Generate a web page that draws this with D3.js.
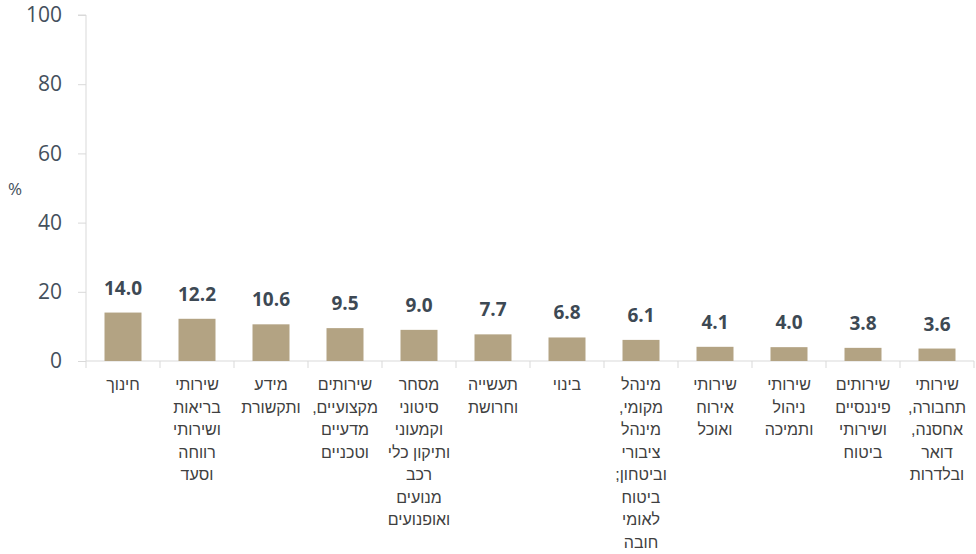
<!DOCTYPE html>
<html><head><meta charset="utf-8">
<script src="https://cdn.jsdelivr.net/npm/d3@7"></script>
<style>body{margin:0;background:#fff}svg{display:block}</style>
</head><body><svg id="c" width="976" height="554"></svg>
<script>
const categories = [
  ["חינוך"],
  ["שירותי","בריאות","ושירותי","רווחה","וסעד"],
  ["מידע","ותקשורת"],
  ["שירותים","מקצועיים,","מדעיים","וטכניים"],
  ["מסחר","סיטוני","וקמעוני","ותיקון כלי","רכב","מנועים","ואופנועים"],
  ["תעשייה","וחרושת"],
  ["בינוי"],
  ["מינהל","מקומי,","מינהל","ציבורי","וביטחון;","ביטוח","לאומי","חובה"],
  ["שירותי","אירוח","ואוכל"],
  ["שירותי","ניהול","ותמיכה"],
  ["שירותים","פיננסיים","ושירותי","ביטוח"],
  ["שירותי","תחבורה,","אחסנה,","דואר","ובלדרות"]
];
const values = [14.0,12.2,10.6,9.5,9.0,7.7,6.8,6.1,4.1,4.0,3.8,3.6];
const yTicks = [0,20,40,60,80,100];
const yLabel = "%";

const svg = d3.select("#c");
const mLeft = 86, mRight = 974, mTop = 15, mBottom = 361;
const x = d3.scaleBand().domain(d3.range(values.length)).range([mLeft, mRight]).paddingInner(0.5).paddingOuter(0.25);
const y = d3.scaleLinear().domain([0,100]).range([mBottom, mTop]);
const axisColor = "#d9d9d9";

// y axis
const ya = svg.append("g").attr("transform",`translate(${mLeft},0)`)
  .call(d3.axisLeft(y).tickValues(yTicks).tickSize(8).tickPadding(16));
ya.select(".domain").attr("stroke",axisColor).attr("d",`M-8,${mTop}H0V${mBottom}`);
ya.selectAll(".tick line").attr("stroke",axisColor);
ya.selectAll(".tick text").attr("fill","#44505c").style("font-family","'Open Sans', 'Liberation Sans', sans-serif").style("font-size","21px");

svg.append("text").attr("x",15).attr("y",190).attr("text-anchor","middle").attr("dominant-baseline","middle")
  .attr("fill","#44505c").style("font-family","'Open Sans', sans-serif").style("font-size","17px").text(yLabel);

// x axis
const step = (mRight-mLeft)/values.length;
const xa = svg.append("g").attr("transform",`translate(0,${mBottom})`);
xa.append("line").attr("x1",mLeft).attr("x2",mRight).attr("stroke",axisColor);
xa.selectAll("line.t").data(d3.range(values.length+1)).join("line").attr("class","t")
  .attr("x1",i=>mLeft+i*step).attr("x2",i=>mLeft+i*step).attr("y1",0).attr("y2",7).attr("stroke",axisColor);

// bars
svg.selectAll("rect.bar").data(values).join("rect").attr("class","bar")
  .attr("x",(d,i)=>x(i)).attr("width",x.bandwidth())
  .attr("y",d=>y(d)).attr("height",d=>mBottom-y(d)).attr("fill","#b3a383");

// value labels
svg.selectAll("text.val").data(values).join("text").attr("class","val")
  .attr("x",(d,i)=>x(i)+x.bandwidth()/2).attr("y",d=>y(d)-18)
  .attr("text-anchor","middle").attr("fill","#3d4954")
  .style("font-family","'Open Sans', sans-serif").style("font-size","19px").style("font-weight","bold")
  .text(d=>d.toFixed(1));

// category labels
const cl = svg.selectAll("text.cat").data(categories).join("text").attr("class","cat")
  .attr("x",(d,i)=>x(i)+x.bandwidth()/2).attr("y",390)
  .attr("text-anchor","middle").attr("direction","rtl").attr("fill","#404040")
  .style("font-family","'Liberation Sans', 'DejaVu Sans', sans-serif").style("font-size","16px");
cl.each(function(lines,i){
  const t = d3.select(this);
  lines.forEach((ln,j)=>{
    t.append("tspan").attr("x",x(i)+x.bandwidth()/2).attr("y",390+j*22.5).text(ln);
  });
});
</script></body></html>
